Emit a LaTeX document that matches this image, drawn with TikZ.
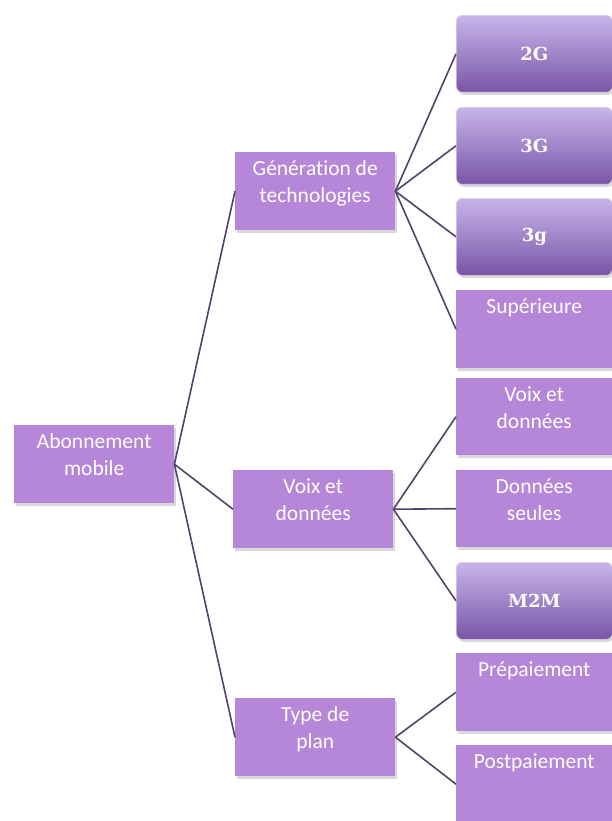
\documentclass[tikz,border=0pt]{standalone}
\usepackage{fontspec}
\setmainfont{Carlito}[Ligatures=NoCommon]
\newfontfamily\serifb{DejaVu Serif}
\usetikzlibrary{shadows}
\definecolor{flat}{RGB}{182,134,216}
\definecolor{gtop}{RGB}{200,180,234}
\definecolor{gmid}{RGB}{160,126,204}
\definecolor{gbot}{RGB}{120,86,166}
\definecolor{link}{RGB}{82,68,104}
\newcommand\boxtxt[3]{\parbox[c][#2][t]{#1}{\centering\rule{0pt}{23pt}#3}}
\tikzset{
  flatbox/.style={fill=flat, inner sep=0pt, anchor=north west, text=white,
    font=\fontsize{21.5}{27}\selectfont,
    drop shadow={shadow xshift=1.5pt, shadow yshift=-2.5pt, opacity=0.3}},
  gradbox/.style={rounded corners=6pt, top color=gtop, middle color=gmid, bottom color=gbot,
    draw=gtop!60!white, line width=0.6pt,
    anchor=north west, minimum width=156pt, minimum height=77pt, inner sep=0pt,
    text=white, font=\serifb\bfseries\fontsize{18}{22}\selectfont,
    drop shadow={shadow xshift=1.5pt, shadow yshift=-2.5pt, opacity=0.3}},
  conn/.style={draw=link, line width=1.6pt}
}
\begin{document}
\begin{tikzpicture}[x=1pt,y=-1pt]
\useasboundingbox[fill=white] (0,0) rectangle (612,821);
% level 0
\node[flatbox] (root) at (14,425) {\boxtxt{160pt}{78pt}{Abonnement\\mobile}};
% level 1
\node[flatbox] (gen) at (235,152) {\boxtxt{160pt}{78pt}{Génération de\\technologies}};
\node[flatbox] (voix) at (233,470) {\boxtxt{160pt}{78pt}{Voix et\\données}};
\node[flatbox] (type) at (235,698) {\boxtxt{160pt}{78pt}{Type de\\plan}};
% level 2
\node[gradbox] (g2) at (456,15) {2G};
\node[gradbox] (g3) at (456,107) {3G};
\node[gradbox] (g3b) at (456,198) {3g};
\node[flatbox] (sup) at (456,290) {\boxtxt{156pt}{78pt}{Supérieure}};
\node[flatbox] (vd) at (456,378) {\boxtxt{156pt}{77pt}{Voix et\\données}};
\node[flatbox] (ds) at (456,470) {\boxtxt{156pt}{77pt}{Données\\seules}};
\node[gradbox] (m2m) at (456,562) {M2M};
\node[flatbox] (pre) at (456,653) {\boxtxt{156pt}{78pt}{Prépaiement}};
\node[flatbox] (post) at (456,745) {\boxtxt{156pt}{78pt}{Postpaiement}};
% connectors
\draw[conn] (root.east) -- (gen.west);
\draw[conn] (root.east) -- (voix.west);
\draw[conn] (root.east) -- (type.west);
\draw[conn] (gen.east) -- (g2.west);
\draw[conn] (gen.east) -- (g3.west);
\draw[conn] (gen.east) -- (g3b.west);
\draw[conn] (gen.east) -- (sup.west);
\draw[conn] (voix.east) -- (vd.west);
\draw[conn] (voix.east) -- (ds.west);
\draw[conn] (voix.east) -- (m2m.west);
\draw[conn] (type.east) -- (pre.west);
\draw[conn] (type.east) -- (post.west);
\end{tikzpicture}
\end{document}
